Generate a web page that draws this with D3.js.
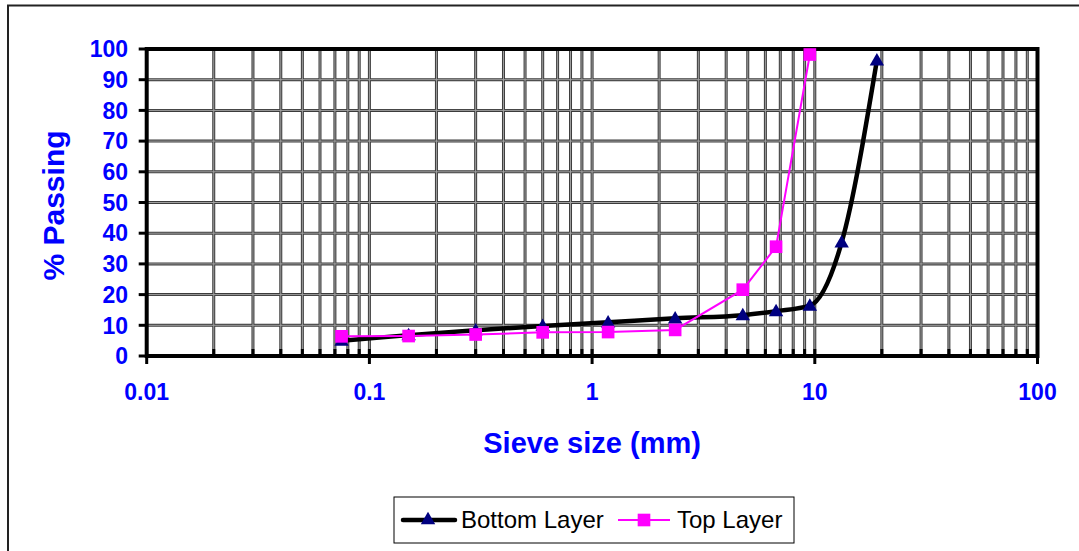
<!DOCTYPE html>
<html><head><meta charset="utf-8">
<script src="https://cdn.jsdelivr.net/npm/d3@7"></script>
<style>body{margin:0;background:#fff;}svg{display:block;font-family:"Liberation Sans",Arial,sans-serif;}</style>
</head><body>
<svg id="c" width="1079" height="551"></svg>
<script>
const bottomSizes = [0.075, 0.15, 0.3, 0.6, 1.18, 2.36, 4.75, 6.7, 9.5, 13.2, 19];
const bottomPassing = [5, 6.8, 8.4, 9.8, 11, 12.3, 13.3, 14.6, 16.4, 37, 96.3];
const topSizes = [0.075, 0.15, 0.3, 0.6, 1.18, 2.36, 4.75, 6.7, 9.5];
const topPassing = [6.4, 6.5, 7.0, 7.7, 7.8, 8.5, 21.6, 35.6, 98.2];
const xTickLabels = ["0.01", "0.1", "1", "10", "100"];
const xTickValues = [0.01, 0.1, 1, 10, 100];
const yTickValues = [0, 10, 20, 30, 40, 50, 60, 70, 80, 90, 100];

const svg = d3.select("#c");
const L = 146.7, R = 1037.5, T = 49, B = 356;
const x = d3.scaleLog().domain([0.01, 100]).range([L, R]);
const y = d3.scaleLinear().domain([0, 100]).range([B, T]);
const blue = "#0000ff";

// outer frame
svg.append("rect").attr("x", 8).attr("y", 5.5).attr("width", 1090).attr("height", 570)
  .attr("fill", "none").attr("stroke", "#222").attr("stroke-width", 2);

// grid
const minor = [];
for (let n = -2; n <= 1; n++) for (let k = 1; k <= 9; k++) minor.push(k * Math.pow(10, n));
const vgrid = minor.filter(v => v > 0.0100001);
const g = svg.append("g");
[["#3c3c3c", 3], ["#a0a0a0", 1]].forEach(([c, w]) => {
  g.selectAll(null).data(vgrid).enter().append("line")
    .attr("x1", d => x(d)).attr("x2", d => x(d)).attr("y1", T).attr("y2", B)
    .attr("stroke", c).attr("stroke-width", w);
  g.selectAll(null).data(yTickValues.filter(v => v > 0 && v < 100)).enter().append("line")
    .attr("x1", L).attr("x2", R).attr("y1", d => y(d)).attr("y2", d => y(d))
    .attr("stroke", c).attr("stroke-width", w);
});

// minor ticks on x axis (inward)
svg.append("g").selectAll("line").data(vgrid).enter().append("line")
  .attr("x1", d => x(d)).attr("x2", d => x(d)).attr("y1", B).attr("y2", B - 7)
  .attr("stroke", "#000").attr("stroke-width", 3);
// major ticks down
svg.append("g").selectAll("line").data(xTickValues).enter().append("line")
  .attr("x1", d => x(d)).attr("x2", d => x(d)).attr("y1", B).attr("y2", B + 8)
  .attr("stroke", "#000").attr("stroke-width", 3);
// y ticks outward
svg.append("g").selectAll("line").data(yTickValues).enter().append("line")
  .attr("x1", L - 8).attr("x2", L).attr("y1", d => y(d)).attr("y2", d => y(d))
  .attr("stroke", "#000").attr("stroke-width", 3);

// plot border
svg.append("rect").attr("x", L).attr("y", T).attr("width", R - L).attr("height", B - T)
  .attr("fill", "none").attr("stroke", "#000").attr("stroke-width", 4);

// tick labels
svg.append("g").selectAll("text").data(yTickValues).enter().append("text")
  .attr("x", 128).attr("y", d => y(d)).attr("dy", "0.36em").attr("text-anchor", "end")
  .attr("font-size", 23).attr("font-weight", "bold").attr("fill", blue).text(d => d);
svg.append("g").selectAll("text").data(xTickValues).enter().append("text")
  .attr("x", d => x(d)).attr("y", 400).attr("text-anchor", "middle")
  .attr("font-size", 23).attr("font-weight", "bold").attr("fill", blue)
  .text((d, i) => xTickLabels[i]);

// titles
svg.append("text").attr("x", (L + R) / 2).attr("y", 453).attr("text-anchor", "middle")
  .attr("font-size", 29).attr("font-weight", "bold").attr("fill", blue).text("Sieve size (mm)");
svg.append("text").attr("transform", `translate(64,${(T + B) / 2 + 3}) rotate(-90)`)
  .attr("text-anchor", "middle").attr("font-size", 30).attr("font-weight", "bold")
  .attr("fill", blue).text("% Passing");

// series
const bData = bottomSizes.map((s, i) => [s, bottomPassing[i]]);
const tData = topSizes.map((s, i) => [s, topPassing[i]]);
const smooth = d3.line().x(d => x(d[0])).y(d => y(d[1])).curve(d3.curveMonotoneX);
const straight = d3.line().x(d => x(d[0])).y(d => y(d[1]));
const tri = d3.symbol().type(d3.symbolTriangle).size(90);
const sq = d3.symbol().type(d3.symbolSquare).size(160);

svg.append("path").attr("d", smooth(bData)).attr("fill", "none").attr("stroke", "#000")
  .attr("stroke-width", 4.5).attr("stroke-linejoin", "round");
svg.append("g").selectAll("path").data(bData).enter().append("path")
  .attr("d", tri).attr("transform", d => `translate(${x(d[0])},${y(d[1]) + 1})`)
  .attr("fill", "#000080");
svg.append("path").attr("d", straight(tData)).attr("fill", "none").attr("stroke", "#ff00ff")
  .attr("stroke-width", 2);
svg.append("g").selectAll("path").data(tData).enter().append("path")
  .attr("d", sq).attr("transform", d => `translate(${x(d[0])},${y(d[1])})`)
  .attr("fill", "#ff00ff");

// legend
const lg = svg.append("g");
lg.append("rect").attr("x", 394).attr("y", 497).attr("width", 400).attr("height", 46)
  .attr("fill", "#fff").attr("stroke", "#000").attr("stroke-width", 1);
lg.append("line").attr("x1", 403).attr("x2", 455).attr("y1", 520).attr("y2", 520)
  .attr("stroke", "#000").attr("stroke-width", 4.5).attr("stroke-linecap", "round");
lg.append("path").attr("d", tri).attr("transform", "translate(428,520)").attr("fill", "#000080");
lg.append("text").attr("x", 461).attr("y", 528).attr("font-size", 24).attr("fill", "#000").text("Bottom Layer");
lg.append("line").attr("x1", 618).attr("x2", 670).attr("y1", 520).attr("y2", 520)
  .attr("stroke", "#ff00ff").attr("stroke-width", 2);
lg.append("path").attr("d", sq).attr("transform", "translate(644,520)").attr("fill", "#ff00ff");
lg.append("text").attr("x", 677).attr("y", 528).attr("font-size", 24).attr("fill", "#000").text("Top Layer");
</script>
</body></html>
